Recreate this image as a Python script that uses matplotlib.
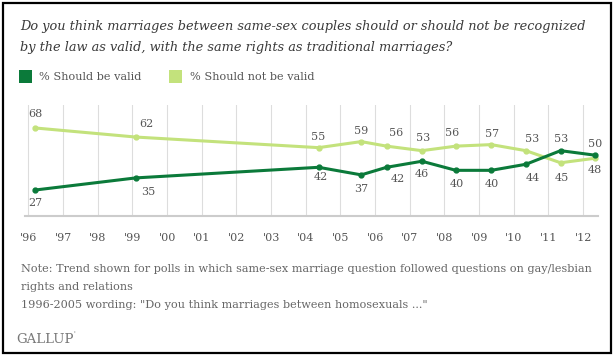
import matplotlib.pyplot as plt
from matplotlib.patches import Rectangle

# poll dates (decimal years) and results
dates = [1996.2, 1999.1, 2004.37, 2005.6, 2006.33, 2007.35, 2008.33, 2009.35, 2010.35, 2011.35, 2012.35]
valid = [27, 35, 42, 37, 42, 46, 40, 40, 44, 53, 50]
not_valid = [68, 62, 55, 59, 56, 53, 56, 57, 53, 45, 48]
years = list(range(1996, 2013))
year_labels = ["'%02d" % (y % 100) for y in years]

# label offsets in pixels (dx, dy)
off_valid = [(0, -13), (12, -14), (2, -10), (0, -14), (11, -12), (0, -13), (1, -14), (1, -14), (7, -14), (1, 12), (0, 11)]
off_not = [(0, 14), (10, 13), (0, 11), (0, 11), (10, 13), (1, 13), (-4, 13), (1, 11), (6, 12), (1, -15), (0, -12)]

dark = '#0b7a3a'
light = '#c3e27c'
gray = '#666666'
W, H = 615, 359

fig = plt.figure(figsize=(W / 100, H / 100), dpi=100)
plt.rcParams['font.family'] = ['DejaVu Serif']

def fx(px):
    return px / W

def fy(py):
    return 1 - py / H

# border
fig.patches.append(Rectangle((fx(3), fy(353)), fx(608), 350 / H, transform=fig.transFigure,
                             fill=False, edgecolor='black', linewidth=1.6))

# title
fig.text(fx(20), fy(30), "Do you think marriages between same-sex couples should or should not be recognized",
         style='italic', fontsize=9.3, color='#3a3a3a', va='baseline')
fig.text(fx(20), fy(51), "by the law as valid, with the same rights as traditional marriages?",
         style='italic', fontsize=9.3, color='#3a3a3a', va='baseline')

# legend
fig.patches.append(Rectangle((fx(19), fy(83)), fx(13), 13 / H, transform=fig.transFigure,
                             facecolor=dark, edgecolor='none'))
fig.text(fx(39), fy(80), "% Should be valid", fontsize=8.1, color='#555555', va='baseline')
fig.patches.append(Rectangle((fx(169), fy(83)), fx(13), 13 / H, transform=fig.transFigure,
                             facecolor=light, edgecolor='none'))
fig.text(fx(190), fy(80), "% Should not be valid", fontsize=8.1, color='#555555', va='baseline')

ax = fig.add_axes([fx(25), fy(216), fx(573), 111 / H])
ax.set_xlim(1995.9, 2012.43)
ax.set_ylim(9.8, 83.2)
for y in years:
    ax.axvline(y, color='#dddddd', linewidth=0.8, zorder=0)

ax.plot(dates, not_valid, color=light, linewidth=2.2, marker='o', markersize=3.5, zorder=3)
ax.plot(dates, valid, color=dark, linewidth=2.2, marker='o', markersize=3.5, zorder=4)

for x, v, o in zip(dates, valid, off_valid):
    ax.annotate(str(v), (x, v), xytext=o, textcoords='offset pixels', ha='center', va='center',
                fontsize=8, color='#555555')
for x, v, o in zip(dates, not_valid, off_not):
    ax.annotate(str(v), (x, v), xytext=o, textcoords='offset pixels', ha='center', va='center',
                fontsize=8, color='#555555')

for s in ['top', 'right', 'left']:
    ax.spines[s].set_visible(False)
ax.spines['bottom'].set_color('#cccccc')
ax.spines['bottom'].set_linewidth(1.5)
ax.set_yticks([])
ax.set_xticks(years)
ax.set_xticklabels(year_labels, fontsize=8, color='#555555')
ax.tick_params(axis='x', length=0, pad=12)

# notes
fig.text(fx(21), fy(272), "Note: Trend shown for polls in which same-sex marriage question followed questions on gay/lesbian",
         fontsize=8.1, color=gray, va='baseline')
fig.text(fx(21), fy(290), "rights and relations", fontsize=8.1, color=gray, va='baseline')
fig.text(fx(21), fy(308), '1996-2005 wording: "Do you think marriages between homosexuals ..."',
         fontsize=8.1, color=gray, va='baseline')
fig.text(fx(16), fy(343), "GALLUP", fontsize=9.5, color='#777777', va='baseline')
fig.text(fx(73), fy(336), "'", fontsize=5, color='#777777', va='baseline')

fig.savefig('out.png', dpi=100)
